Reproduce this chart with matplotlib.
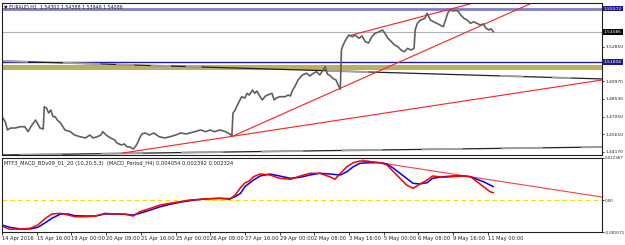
import matplotlib.pyplot as plt
import matplotlib.transforms as mtransforms

plt.rcParams['font.family'] = ['DejaVu Sans']

# EURAUD H1 (bar index, close)
price_bars = [0, 3, 5, 8, 12, 17, 21, 24, 27, 31, 35, 38, 39, 41, 43, 45, 47, 49, 51, 54, 58, 63, 67, 72, 77,
              81, 84, 88, 91, 93, 96, 100, 104, 106, 110, 113, 115, 118, 121, 123, 125, 127, 129, 132, 136,
              140, 145, 150, 155, 160, 165, 170, 174, 178, 183, 188, 192, 196, 201, 206, 210, 212, 213, 215,
              218, 221, 224, 226, 228, 231, 233, 235, 238, 240, 243, 245, 249, 251, 253, 256, 261, 264, 266,
              268, 270, 273, 277, 281, 284, 286, 290, 293, 295, 298, 300, 303, 305, 308, 310, 312, 313, 314,
              316, 318, 320, 323, 326, 329, 332, 335, 338, 341, 344, 348, 351, 353, 356, 359, 362, 365, 368,
              371, 374, 377, 380, 381, 383, 386, 390, 392, 395, 398, 401, 404, 407, 409, 411, 413, 416, 419,
              421, 423, 426, 429, 432, 435, 438, 441, 444, 446, 449, 451, 453]
price_vals = [1.4706, 1.4664, 1.4596, 1.4612, 1.4612, 1.4623, 1.4623, 1.4582, 1.4629, 1.4678, 1.4612, 1.4604,
              1.4788, 1.4778, 1.4736, 1.4761, 1.4706, 1.4706, 1.4678, 1.4654, 1.4596, 1.4582, 1.4554, 1.4540,
              1.4530, 1.4554, 1.4530, 1.4540, 1.4554, 1.4582, 1.4554, 1.4530, 1.4513, 1.4488, 1.4472, 1.4480,
              1.4458, 1.4455, 1.4439, 1.4458, 1.4488, 1.4530, 1.4563, 1.4571, 1.4554, 1.4571, 1.4540, 1.4530,
              1.4540, 1.4554, 1.4571, 1.4563, 1.4573, 1.4582, 1.4596, 1.4582, 1.4596, 1.4582, 1.4596, 1.4582,
              1.4563, 1.4546, 1.4736, 1.4761, 1.4819, 1.4871, 1.4860, 1.4899, 1.4885, 1.4926, 1.4899, 1.4918,
              1.4871, 1.4844, 1.4877, 1.4885, 1.4899, 1.4844, 1.4860, 1.4871, 1.4871, 1.4885, 1.4877, 1.4926,
              1.4954, 1.5009, 1.5051, 1.5065, 1.5042, 1.5059, 1.5078, 1.5051, 1.5076, 1.5119, 1.5059, 1.5042,
              1.5023, 1.5009, 1.4968, 1.4932, 1.5257, 1.5285, 1.5326, 1.5356, 1.5381, 1.5367, 1.5381, 1.5354,
              1.5373, 1.5326, 1.5315, 1.5367, 1.5395, 1.5409, 1.5423, 1.5395, 1.5354, 1.5326, 1.5299, 1.5285,
              1.5257, 1.5243, 1.5271, 1.5257, 1.5271, 1.5423, 1.5478, 1.5505, 1.5519, 1.5561, 1.5505, 1.5491,
              1.5478, 1.5464, 1.5450, 1.5505, 1.5561, 1.5588, 1.5580, 1.5584, 1.5574, 1.5547, 1.5519, 1.5505,
              1.5478, 1.5491, 1.5478, 1.5464, 1.5473, 1.5440, 1.5423, 1.5432, 1.5409]

# MTF MACD (H4 on H1)
macd_bars = [0, 7, 17, 26, 33, 40, 46, 54, 61, 67, 77, 86, 95, 104, 113, 121, 127, 137, 146, 155, 164, 173,
             183, 192, 201, 210, 215, 220, 224, 228, 232, 238, 247, 256, 266, 275, 284, 293, 302, 307, 312,
             318, 324, 330, 339, 349, 355, 361, 367, 373, 379, 385, 392, 397, 407, 416, 425, 432, 438, 444,
             450, 453]
macd_blue = [-0.00715, -0.00781, -0.00830, -0.00830, -0.00781, -0.00648, -0.00521, -0.00397, -0.00397,
             -0.00446, -0.00455, -0.00455, -0.00397, -0.00397, -0.00405, -0.00426, -0.00377, -0.00281,
             -0.00186, -0.00116, -0.00059, -0.00012, 0.00028, 0.00046, 0.00057, 0.00046, 0.00103, 0.00202,
             0.00393, 0.00491, 0.00586, 0.00702, 0.00760, 0.00702, 0.00635, 0.00664, 0.00731, 0.00780,
             0.00760, 0.00745, 0.00731, 0.00826, 0.00971, 0.01069, 0.01086, 0.01086, 0.01049, 0.00925,
             0.00780, 0.00635, 0.00491, 0.00471, 0.00508, 0.00635, 0.00682, 0.00702, 0.00702, 0.00682,
             0.00607, 0.00537, 0.00442, 0.00393]
macd_red = [-0.00744, -0.00839, -0.00830, -0.00810, -0.00715, -0.00521, -0.00397, -0.00377, -0.00426,
            -0.00475, -0.00475, -0.00455, -0.00377, -0.00397, -0.00397, -0.00455, -0.00330, -0.00232,
            -0.00137, -0.00087, -0.00041, 0.00008, 0.00028, 0.00046, 0.00057, 0.00028, 0.00150, 0.00370,
            0.00500, 0.00560, 0.00682, 0.00760, 0.00731, 0.00635, 0.00607, 0.00702, 0.00780, 0.00780,
            0.00682, 0.00607, 0.00780, 0.00971, 0.01086, 0.01136, 0.01115, 0.01086, 0.01020, 0.00826,
            0.00635, 0.00442, 0.00346, 0.00462, 0.00586, 0.00702, 0.00664, 0.00682, 0.00702, 0.00682,
            0.00537, 0.00393, 0.00248, 0.00219]

# drawn objects: trendlines as (bar0, price0, bar1, price1)
red_lines = [(111, 1.4405, 553, 1.5009),
             (213, 1.4546, 553, 1.5903),
             (319, 1.5373, 553, 1.5925)]
black_lines = [(0, 1.5166, 553, 1.5018),
               (0, 1.4389, 553, 1.4455)]
gray_segs_top = [(0, 23), (57, 90), (106, 121), (138, 155), (170, 183), (300, 337), (460, 480), (508, 524)]
gray_segs_bot = [(17, 55), (92, 129), (166, 203), (240, 277), (314, 350), (388, 424), (461, 498), (535, 553)]
macd_trend = (332, 0.01164, 553, 0.00095)

level_top = 1.5600
level_bid = 1.54086
level_blue = 1.51604
zone = (1.5096, 1.5133)

price_ticks = [1.52850, 1.49970, 1.48530, 1.47050, 1.45610, 1.44170]
macd_ticks = [0.012367, 0.0, -0.009171]
macd_tick_labels = ['0.012367', '0.00', '-0.009171']

time_bars = list(range(0, 449, 32))
time_labels = ['14 Apr 2016', '15 Apr 16:00', '19 Apr 00:00', '20 Apr 08:00', '21 Apr 16:00',
               '25 Apr 00:00', '26 Apr 08:00', '27 Apr 16:00', '29 Apr 00:00', '2 May 08:00',
               '3 May 16:00', '5 May 00:00', '6 May 08:00', '9 May 16:00', '11 May 00:00']

FS = 3.7
FSY = 3.2
W, H = 625, 245
fig = plt.figure(figsize=(W / 100, H / 100), dpi=100)
ax = fig.add_axes([2 / W, 1 - 155.5 / H, 600 / W, 152.5 / H])
ax2 = fig.add_axes([2 / W, 1 - 232 / H, 600 / W, 74.5 / H])

xmax = 553.3
for a in (ax, ax2):
    a.set_xlim(0, xmax)
    for s in a.spines.values():
        s.set_color('#202020')
        s.set_linewidth(0.8)
    a.yaxis.tick_right()
    a.tick_params(axis='y', length=1.5, width=0.6, labelsize=FSY, pad=0.8, colors='#202020')
ax2.tick_params(axis='y', labelsize=2.9)

ax.set_ylim(1.43848, 1.56460)
ax2.set_ylim(-0.009171, 0.012367)

# levels and zone
ax.axhline(level_top, color='#7f7fc8', lw=2.0)
ax.axhline(level_bid, color='#a8b0bc', lw=0.8)
ax.axhline(level_blue, color='#1c1c9c', lw=1.0)
ax.axhspan(zone[0], zone[1], color='#bcb060', lw=0)

for b0, p0, b1, p1 in black_lines:
    ax.plot([b0, b1], [p0, p1], color='#202020', lw=0.9)
for segs, (b0, p0, b1, p1) in zip([gray_segs_top, gray_segs_bot], black_lines):
    k = (p1 - p0) / (b1 - b0)
    for s0, s1 in segs:
        ax.plot([s0, s1], [p0 + k * (s0 - b0), p0 + k * (s1 - b0)], color='#a0a0a0', lw=1.4)

for b0, p0, b1, p1 in red_lines:
    ax.plot([b0, b1], [p0, p1], color='#ff2020', lw=0.8)

ax.plot(price_bars, price_vals, color='#606060', lw=1.2)

ax.set_yticks(price_ticks)
ax.set_yticklabels([f'{v:.5f}' for v in price_ticks])
ax.set_xticks([])

tr = mtransforms.blended_transform_factory(ax.transAxes, ax.transData)
for val, bg in [(1.55572, '#1c1c8c'), (level_bid, '#000000'), (level_blue, '#1c1c8c')]:
    yv = level_top if val == 1.55572 else val
    ax.text(1.003, yv, f'{val:.5f}', transform=tr, fontsize=FSY, color='white', va='center', ha='left',
            bbox=dict(boxstyle='square,pad=0.2', fc=bg, ec='none'))

ax.text(0.003, 0.99, '\u25bc EURAUD,H1  1.54302 1.54388 1.53946 1.54086', transform=ax.transAxes,
        fontsize=3.4, va='top', ha='left', color='#202020')

# MACD panel
ax2.axhline(0, color='#f0e000', lw=0.8, dashes=(4, 3))
ax2.plot([macd_trend[0], macd_trend[2]], [macd_trend[1], macd_trend[3]], color='#ff4040', lw=0.8)
ax2.plot(macd_bars, macd_blue, color='#0000ff', lw=1.1)
ax2.plot(macd_bars, macd_red, color='#ff0000', lw=1.1)
ax2.set_yticks(macd_ticks)
ax2.set_yticklabels(macd_tick_labels)
ax2.text(0.004, 0.96, 'MTF3_MACD_BDv09_01_20 (10,20,5,3)  (MACD_Period_H4) 0.004054 0.002392 0.002324',
         transform=ax2.transAxes, fontsize=FS, va='top', ha='left', color='#202020')

ax2.set_xticks(time_bars)
ax2.set_xticklabels(time_labels, ha='left')
ax2.tick_params(axis='x', length=2, width=0.6, labelsize=FS, pad=1, colors='#202020')

fig.savefig('out.png', dpi=100)
